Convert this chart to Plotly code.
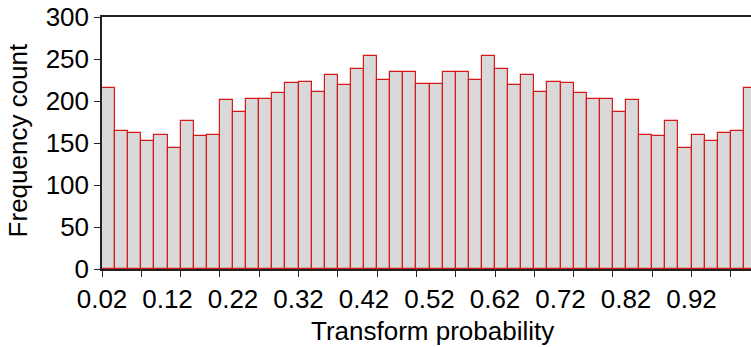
import plotly.graph_objects as go

# Histogram data: bin width 0.02, first bin starts at 0.02
bin_start = 0.02
bin_width = 0.02
counts = [216, 164, 162, 152, 159, 144, 176, 158, 160, 201,
          187, 202, 202, 209, 222, 223, 211, 231, 219, 238,
          253, 225, 234, 235, 220, 220, 235, 234, 225, 253,
          238, 219, 231, 211, 223, 222, 209, 202, 202, 187,
          201, 160, 158, 176, 144, 159, 152, 162, 164, 216]
x_labels = ["0.02", "0.12", "0.22", "0.32", "0.42", "0.52", "0.62", "0.72", "0.82", "0.92"]
x_label_vals = [0.02, 0.12, 0.22, 0.32, 0.42, 0.52, 0.62, 0.72, 0.82, 0.92]
x_tick_marks = [0.02, 0.08, 0.14, 0.20, 0.26, 0.32, 0.38, 0.44, 0.50, 0.56,
                0.62, 0.68, 0.74, 0.80, 0.86, 0.92, 0.98]
y_ticks = [0, 50, 100, 150, 200, 250, 300]

centers = [bin_start + bin_width * (i + 0.5) for i in range(len(counts))]

FONT = "Liberation Sans, Arial, sans-serif"
FS = 26
xr = [0.02, 1.0108]

fig = go.Figure()
fig.add_trace(go.Bar(
    x=centers, y=counts, width=bin_width,
    marker=dict(color="#d9d9d9", line=dict(color="#d7191c", width=1.2)),
    showlegend=False, hoverinfo="x+y",
))
# empty trace to carry the overlaid tick-mark axis
fig.add_trace(go.Scatter(x=[], y=[], xaxis="x2", showlegend=False))

fig.update_layout(
    width=751, height=347,
    margin=dict(l=102, r=0, t=17, b=78),
    paper_bgcolor="white", plot_bgcolor="white",
    bargap=0,
    font=dict(family=FONT, size=FS, color="black"),
    xaxis=dict(
        range=xr, tickmode="array", tickvals=x_label_vals, ticktext=x_labels,
        ticks="outside", ticklen=6, tickcolor="rgba(0,0,0,0)",
        showline=True, linecolor="#222", linewidth=1.5, mirror=True,
        showgrid=False, zeroline=False, automargin=False, layer="above traces",
        tickfont=dict(family=FONT, size=FS, color="black"),
    ),
    xaxis2=dict(
        range=xr, overlaying="x", anchor="y", side="bottom",
        tickmode="array", tickvals=x_tick_marks,
        ticktext=["" for _ in x_tick_marks],
        ticks="outside", ticklen=7, tickwidth=1.2, tickcolor="#222",
        showline=False, showgrid=False, zeroline=False, automargin=False,
    ),
    yaxis=dict(
        range=[0, 300], tickmode="array", tickvals=y_ticks,
        ticks="outside", ticklen=6, tickwidth=1.2, tickcolor="#222",
        showline=True, linecolor="#222", linewidth=1.5,
        showgrid=False, zeroline=False, automargin=False, layer="above traces",
        tickfont=dict(family=FONT, size=FS, color="black"),
    ),
    annotations=[
        dict(text="Transform probability", xref="paper", yref="paper",
             x=0.509, y=-0.246, xanchor="center", yanchor="middle",
             showarrow=False, font=dict(family=FONT, size=FS, color="black")),
        dict(text="Frequency count", xref="paper", yref="paper",
             x=-0.128, y=0.51, xanchor="center", yanchor="middle",
             textangle=-90, showarrow=False,
             font=dict(family=FONT, size=FS, color="black")),
    ],
)

fig.write_html(
    "out.html",
    config={"displayModeBar": False},
    post_script="document.body.style.margin='0';document.body.style.overflow='hidden';",
)
